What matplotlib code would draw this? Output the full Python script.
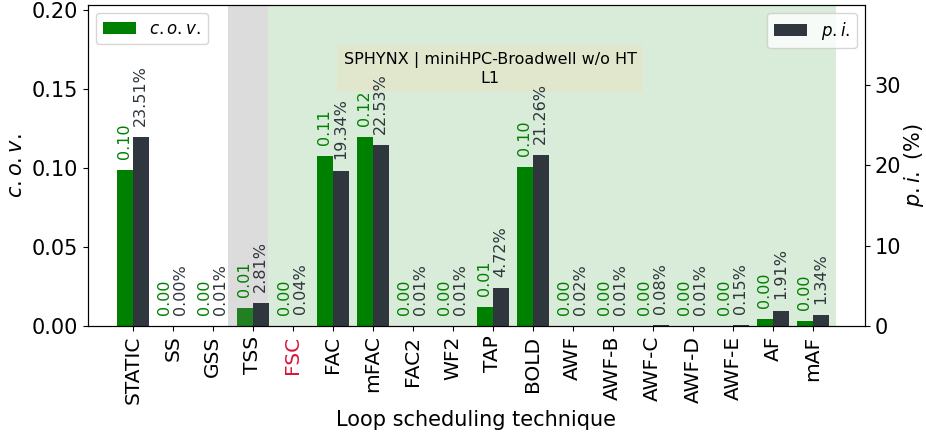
import matplotlib.pyplot as plt
import numpy as np

techniques = ['STATIC', 'SS', 'GSS', 'TSS', 'FSC', 'FAC', 'mFAC', 'FAC2', 'WF2',
              'TAP', 'BOLD', 'AWF', 'AWF-B', 'AWF-C', 'AWF-D', 'AWF-E', 'AF', 'mAF']
cov = [0.0987, 0.0, 0.0, 0.0114, 0.0, 0.1076, 0.1197, 0.0, 0.0,
       0.0120, 0.1006, 0.0, 0.0, 0.0, 0.0, 0.0, 0.0044, 0.0032]
pi = [23.51, 0.00, 0.01, 2.81, 0.04, 19.34, 22.53, 0.01, 0.01,
      4.72, 21.26, 0.02, 0.01, 0.08, 0.01, 0.15, 1.91, 1.34]

GREEN = 'green'
DARK = '#2f363d'

x = np.arange(len(techniques))
w = 0.4

fig, ax1 = plt.subplots(figsize=(9.26, 4.38), dpi=100)
ax2 = ax1.twinx()

b1 = ax1.bar(x - w / 2, cov, w, color=GREEN, label='$c.o.v.$')
b2 = ax2.bar(x + w / 2, pi, w, color=DARK, label='$p.i.$')

# shaded regions
ax1.axvspan(2.39, 3.39, color='gray', alpha=0.27, lw=0)
ax1.axvspan(3.39, 17.58, color='green', alpha=0.15, lw=0)

ax1.set_xlim(-1.13, 18.3)
ax1.set_ylim(0, max(cov) * 1.7)
ax2.set_ylim(0, max(pi) * 1.7)

for xi, c in zip(x, cov):
    ax2.annotate(f'{c:.2f}', xy=(xi - w / 2, c / ax1.get_ylim()[1] * ax2.get_ylim()[1]),
                 xytext=(0, 8), textcoords='offset points', rotation=90,
                 ha='center', va='bottom', color=GREEN, fontsize=11.5)
for xi, p in zip(x, pi):
    ax2.annotate(f'{p:.2f}%', xy=(xi + w / 2, p), xytext=(0, 8),
                 textcoords='offset points', rotation=90,
                 ha='center', va='bottom', color=DARK, fontsize=11.5)

ax1.set_xticks(x)
ax1.set_xticklabels(techniques, rotation=90, fontsize=14.5)
ax1.get_xticklabels()[4].set_color('crimson')
ax1.tick_params(axis='y', labelsize=15)
ax2.tick_params(axis='y', labelsize=15)
ax2.set_yticks([0, 10, 20, 30])

ax1.set_ylabel('$c.o.v.$', fontsize=15)
ax2.set_ylabel('$p.i.$ (%)', fontsize=15, labelpad=1)
ax1.set_xlabel('Loop scheduling technique', fontsize=15)

ax1.legend(loc='upper left', fontsize=12)
ax2.legend(loc='upper right', fontsize=12)

ax1.text(0.518, 0.80, 'SPHYNX | miniHPC-Broadwell w/o HT\nL1', transform=ax1.transAxes,
         ha='center', va='center', fontsize=11.5,
         bbox=dict(boxstyle='square,pad=0.4', facecolor='wheat', alpha=0.3, lw=0))

fig.subplots_adjust(left=0.0945, right=0.934, top=0.989, bottom=0.256)
fig.savefig('out.png', dpi=100)
